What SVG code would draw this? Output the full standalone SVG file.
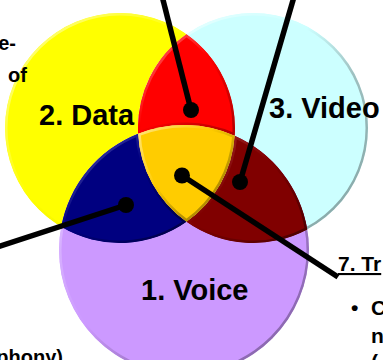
<svg xmlns="http://www.w3.org/2000/svg" width="383" height="360" viewBox="0 0 383 360">
<style>
.lbl{font-family:"Liberation Sans",Arial,sans-serif;font-weight:bold;fill:#000}
.big{font-size:29px}
.side{font-size:20px}
.rt{font-size:21px}
.con{stroke:#000;stroke-width:5.5;fill:none}
.dot{fill:#000}
</style>
<defs>
<linearGradient id="gY" x1="0" y1="0" x2="1" y2="1"><stop offset="0" stop-color="#FFFF99"/><stop offset="0.45" stop-color="#FFFF00"/><stop offset="1" stop-color="#E0E000"/></linearGradient>
<linearGradient id="gC" x1="0" y1="0" x2="1" y2="1"><stop offset="0" stop-color="#EEFFFF"/><stop offset="0.4" stop-color="#CCFFFF"/><stop offset="0.6" stop-color="#9FC0C0"/><stop offset="1" stop-color="#7FA0A0"/></linearGradient>
<linearGradient id="gP" x1="0" y1="0" x2="1" y2="1"><stop offset="0" stop-color="#E4CCFF"/><stop offset="0.45" stop-color="#CC99FF"/><stop offset="0.65" stop-color="#9F77C8"/><stop offset="1" stop-color="#7F5FA0"/></linearGradient>
<linearGradient id="gR" x1="0" y1="0" x2="1" y2="1"><stop offset="0" stop-color="#FF8080"/><stop offset="0.45" stop-color="#FF0000"/><stop offset="1" stop-color="#B00000"/></linearGradient>
<linearGradient id="gO" x1="0" y1="0" x2="1" y2="1"><stop offset="0" stop-color="#FFE680"/><stop offset="0.4" stop-color="#FFCC00"/><stop offset="0.7" stop-color="#B89200"/><stop offset="1" stop-color="#A07800"/></linearGradient>
<linearGradient id="gB" x1="0" y1="0" x2="1" y2="1"><stop offset="0" stop-color="#6060B8"/><stop offset="0.45" stop-color="#000080"/><stop offset="1" stop-color="#000040"/></linearGradient>
<linearGradient id="gD" x1="0" y1="0" x2="1" y2="1"><stop offset="0" stop-color="#A03030"/><stop offset="0.45" stop-color="#800000"/><stop offset="1" stop-color="#480000"/></linearGradient>
<clipPath id="cY"><circle cx="120" cy="128" r="115"/></clipPath>
<clipPath id="cC"><circle cx="253" cy="128" r="115"/></clipPath>
<clipPath id="cP"><circle cx="184" cy="250" r="125"/></clipPath>
<clipPath id="cR"><path d="M186.5,34.2 A115,115 0 0,1 234.73,135.76 A125,125 0 0,0 138.14,133.72 A115,115 0 0,1 186.5,34.2 Z"/></clipPath>
<clipPath id="cO"><path d="M138.14,133.72 A125,125 0 0,1 234.73,135.76 A115,115 0 0,1 186.5,221.8 A115,115 0 0,1 138.14,133.72 Z"/></clipPath>
<clipPath id="cB"><path d="M138.14,133.72 A115,115 0 0,0 186.5,221.8 A115,115 0 0,1 61.17,226.82 A125,125 0 0,1 138.14,133.72 Z"/></clipPath>
<clipPath id="cD"><path d="M234.73,135.76 A125,125 0 0,1 307.28,229.38 A115,115 0 0,1 186.5,221.8 A115,115 0 0,0 234.73,135.76 Z"/></clipPath>
</defs>
<g id="data-circle" clip-path="url(#cY)"><circle cx="120" cy="128" r="115" fill="#FFFF00" stroke="url(#gY)" stroke-width="5"/></g>
<g id="video-circle" clip-path="url(#cC)"><circle cx="253" cy="128" r="115" fill="#CCFFFF" stroke="url(#gC)" stroke-width="5"/></g>
<g id="voice-circle" clip-path="url(#cP)"><circle cx="184" cy="250" r="125" fill="#CC99FF" stroke="url(#gP)" stroke-width="5"/></g>
<g id="data-video" clip-path="url(#cR)"><path d="M186.5,34.2 A115,115 0 0,1 234.73,135.76 A125,125 0 0,0 138.14,133.72 A115,115 0 0,1 186.5,34.2 Z" fill="#FF0000" stroke="url(#gR)" stroke-width="5"/></g>
<g id="data-voice" clip-path="url(#cB)"><path d="M138.14,133.72 A115,115 0 0,0 186.5,221.8 A115,115 0 0,1 61.17,226.82 A125,125 0 0,1 138.14,133.72 Z" fill="#000080" stroke="url(#gB)" stroke-width="5"/></g>
<g id="video-voice" clip-path="url(#cD)"><path d="M234.73,135.76 A125,125 0 0,1 307.28,229.38 A115,115 0 0,1 186.5,221.8 A115,115 0 0,0 234.73,135.76 Z" fill="#800000" stroke="url(#gD)" stroke-width="5"/></g>
<g id="all-three" clip-path="url(#cO)"><path d="M138.14,133.72 A125,125 0 0,1 234.73,135.76 A115,115 0 0,1 186.5,221.8 A115,115 0 0,1 138.14,133.72 Z" fill="#FFCC00" stroke="url(#gO)" stroke-width="5"/></g>
<g id="labels">
<text class="lbl big" x="39" y="125">2. Data</text>
<text class="lbl big" x="269" y="118">3. Video</text>
<text class="lbl big" x="141" y="300">1. Voice</text>
</g>
<g id="connectors">
<line class="con" x1="191" y1="110" x2="160.5" y2="-10"/>
<line class="con" x1="240" y1="182" x2="296" y2="-10"/>
<line class="con" x1="126" y1="205" x2="-10" y2="249.3"/>
<line class="con" x1="182" y1="175.5" x2="338" y2="277"/>
<circle class="dot" cx="191" cy="110" r="8"/>
<circle class="dot" cx="240" cy="182" r="8"/>
<circle class="dot" cx="126" cy="205" r="8"/>
<circle class="dot" cx="182" cy="175.5" r="8"/>
</g>
<g id="left-text">
<text class="lbl side" x="16" y="50" text-anchor="end">e-</text>
<text class="lbl side" x="27" y="82" text-anchor="end">of</text>
<text class="lbl side" x="63" y="364" text-anchor="end">phony)</text>
</g>
<g id="right-text">
<text class="lbl rt" x="338" y="271" text-decoration="underline">7. Tr</text>
<text class="lbl rt" y="315"><tspan x="351">•</tspan><tspan x="371">C</tspan></text>
<text class="lbl rt" x="371" y="343">n</text>
<text class="lbl rt" x="371" y="369">(</text>
</g>
</svg>
